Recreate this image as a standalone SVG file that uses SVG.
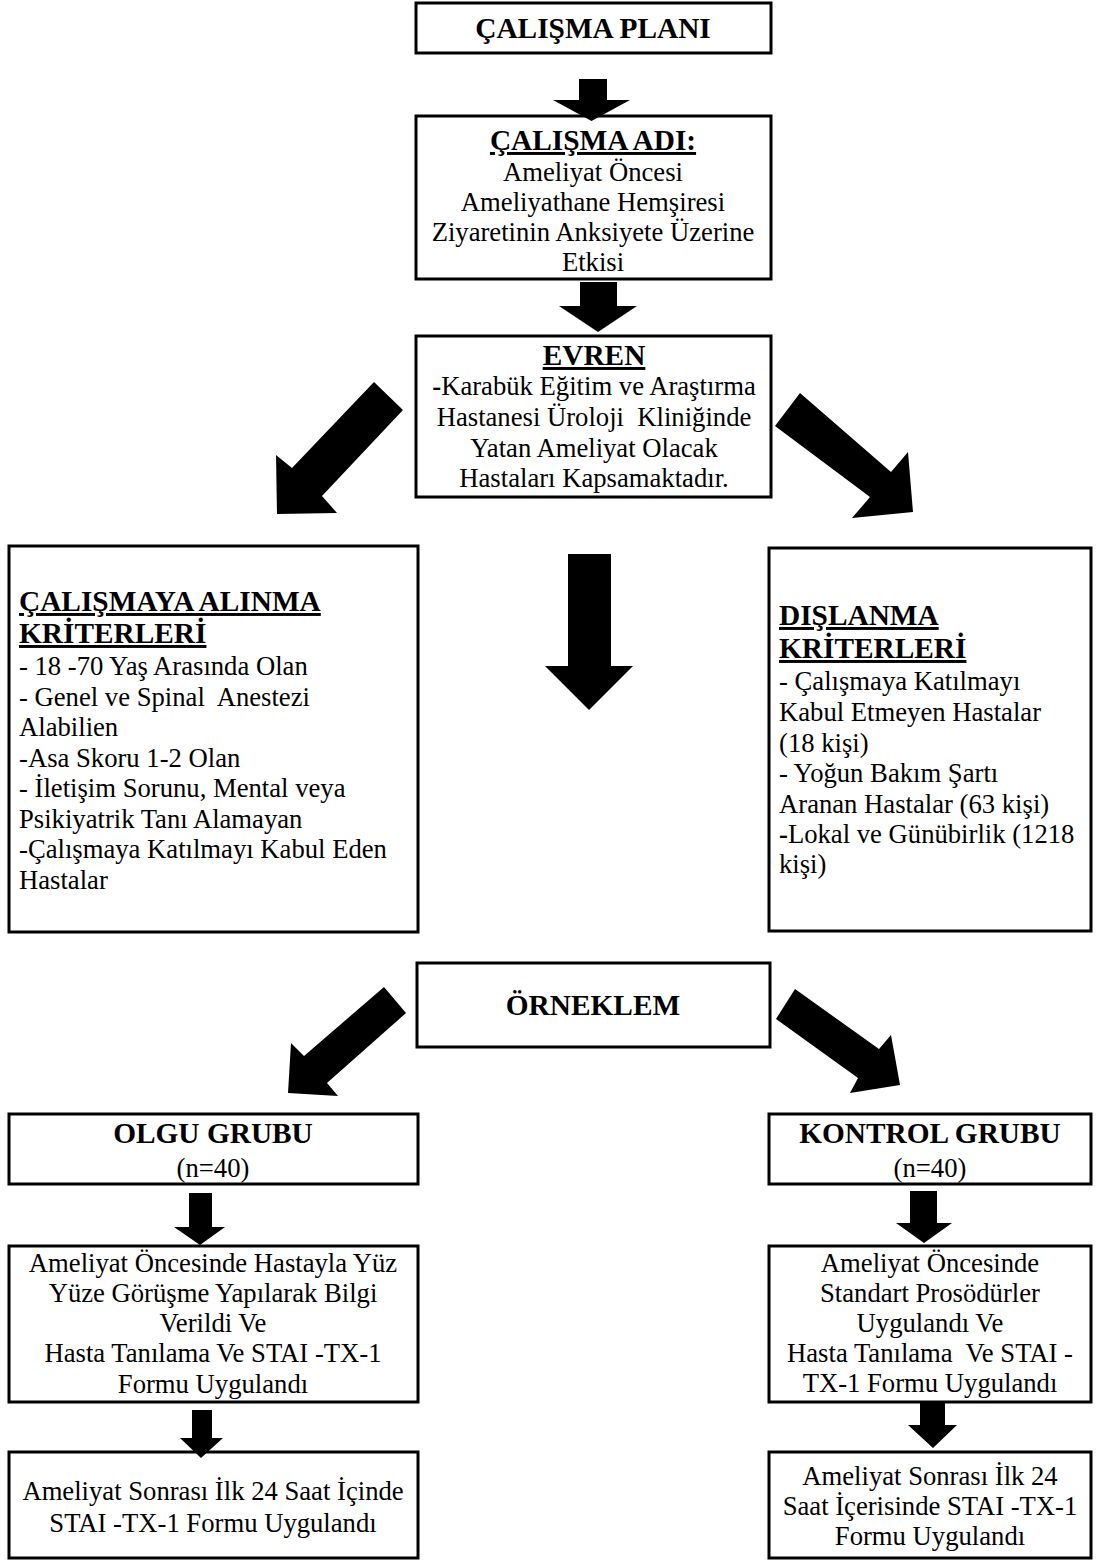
<svg xmlns="http://www.w3.org/2000/svg" width="1097" height="1561" viewBox="0 0 1097 1561">
<style>
  text { font-family: "Liberation Serif", "Times New Roman", serif; fill: #000; white-space: pre; }
  .box { fill: #fff; stroke: #000; stroke-width: 3; }
  .h { font-size: 29.33px; font-weight: bold; }
  .u { text-decoration: underline; }
  .t { font-size: 26.67px; }
  .c { text-anchor: middle; }
  .arr { fill: #000; stroke: none; }
</style>
<rect width="1097" height="1561" fill="#fff"/>

<g id="n-plan">
  <rect class="box" x="416" y="3" width="355" height="50"/>
  <text class="h c" x="593" y="38">ÇALIŞMA PLANI</text>
</g>

<g id="n-adi">
  <rect class="box" x="416" y="116" width="355" height="163"/>
  <text class="h c u" x="593" y="150">ÇALIŞMA ADI:</text>
  <text class="t c" x="593" y="181">Ameliyat Öncesi</text>
  <text class="t c" x="593" y="211">Ameliyathane Hemşiresi</text>
  <text class="t c" x="593" y="241">Ziyaretinin Anksiyete Üzerine</text>
  <text class="t c" x="593" y="271">Etkisi</text>
</g>

<g id="n-evren">
  <rect class="box" x="416" y="336" width="355" height="161"/>
  <text class="h c u" x="594" y="365">EVREN</text>
  <text class="t c" x="594" y="395"><tspan font-weight="bold">-</tspan>Karabük Eğitim ve Araştırma</text>
  <text class="t c" x="594" y="426">Hastanesi Üroloji  Kliniğinde</text>
  <text class="t c" x="594" y="457">Yatan Ameliyat Olacak</text>
  <text class="t c" x="594" y="487">Hastaları Kapsamaktadır.</text>
</g>

<g id="n-alinma">
  <rect class="box" x="9" y="546" width="409" height="386"/>
  <text class="h u" x="19" y="611">ÇALIŞMAYA ALINMA</text>
  <text class="h u" x="19" y="643">KRİTERLERİ</text>
  <text class="t" x="19" y="675">- 18 -70 Yaş Arasında Olan</text>
  <text class="t" x="19" y="706">- Genel ve Spinal  Anestezi</text>
  <text class="t" x="19" y="736">Alabilien</text>
  <text class="t" x="19" y="767">-Asa Skoru 1-2 Olan</text>
  <text class="t" x="19" y="797">- İletişim Sorunu, Mental veya</text>
  <text class="t" x="19" y="828">Psikiyatrik Tanı Alamayan</text>
  <text class="t" x="19" y="858">-Çalışmaya Katılmayı Kabul Eden</text>
  <text class="t" x="19" y="889">Hastalar</text>
</g>

<g id="n-dislanma">
  <rect class="box" x="769" y="548" width="322" height="383"/>
  <text class="h u" x="779" y="625">DIŞLANMA</text>
  <text class="h u" x="779" y="658">KRİTERLERİ</text>
  <text class="t" x="779" y="690">- Çalışmaya Katılmayı</text>
  <text class="t" x="779" y="721">Kabul Etmeyen Hastalar</text>
  <text class="t" x="779" y="752">(18 kişi)</text>
  <text class="t" x="779" y="782">- Yoğun Bakım Şartı</text>
  <text class="t" x="779" y="813">Aranan Hastalar (63 kişi)</text>
  <text class="t" x="779" y="843"><tspan font-weight="bold">-</tspan>Lokal ve Günübirlik (1218</text>
  <text class="t" x="779" y="873">kişi)</text>
</g>

<g id="n-orneklem">
  <rect class="box" x="417" y="963" width="353" height="84"/>
  <text class="h c" x="593" y="1015">ÖRNEKLEM</text>
</g>

<g id="n-olgu">
  <rect class="box" x="9" y="1114" width="409" height="70"/>
  <text class="h c" x="213" y="1143">OLGU GRUBU</text>
  <text class="t c" x="213" y="1177">(n=40)</text>
</g>

<g id="n-kontrol">
  <rect class="box" x="769" y="1114" width="322" height="70"/>
  <text class="h c" x="930" y="1143">KONTROL GRUBU</text>
  <text class="t c" x="930" y="1177">(n=40)</text>
</g>

<g id="n-olgu-oncesi">
  <rect class="box" x="9" y="1246" width="409" height="156"/>
  <text class="t c" x="213" y="1272">Ameliyat Öncesinde Hastayla Yüz</text>
  <text class="t c" x="213" y="1302">Yüze Görüşme Yapılarak Bilgi</text>
  <text class="t c" x="213" y="1332">Verildi Ve</text>
  <text class="t c" x="213" y="1362">Hasta Tanılama Ve STAI -TX-1</text>
  <text class="t c" x="213" y="1393">Formu Uygulandı</text>
</g>

<g id="n-kontrol-oncesi">
  <rect class="box" x="769" y="1246" width="322" height="156"/>
  <text class="t c" x="930" y="1272">Ameliyat Öncesinde</text>
  <text class="t c" x="930" y="1302">Standart Prosödürler</text>
  <text class="t c" x="930" y="1332">Uygulandı Ve</text>
  <text class="t c" x="930" y="1362">Hasta Tanılama  Ve STAI -</text>
  <text class="t c" x="930" y="1392">TX-1 Formu Uygulandı</text>
</g>

<g id="n-olgu-sonrasi">
  <rect class="box" x="9" y="1452" width="409" height="106"/>
  <text class="t c" x="213" y="1500">Ameliyat Sonrası İlk 24 Saat İçinde</text>
  <text class="t c" x="213" y="1532">STAI -TX-1 Formu Uygulandı</text>
</g>

<g id="n-kontrol-sonrasi">
  <rect class="box" x="769" y="1452" width="322" height="106"/>
  <text class="t c" x="930" y="1485">Ameliyat Sonrası İlk 24</text>
  <text class="t c" x="930" y="1515">Saat İçerisinde STAI -TX-1</text>
  <text class="t c" x="930" y="1545">Formu Uygulandı</text>
</g>

<g id="connectors">
  <polygon class="arr" points="579,79 607,79 607,100 630,100 591.5,121 553,100 579,100"/>
  <polygon class="arr" points="580,282 617,282 617,306 637,306 598,332 559,306 580,306"/>
  <polygon class="arr" points="374,382 403,410 322,496 337,513 277,514 276,455 292,468"/>
  <polygon class="arr" points="800,393 891,472 908,452 913,512 852,518 870,497 775,426"/>
  <polygon class="arr" points="568,554 611,554 611,666 633,666 589,710 545,666 568,666"/>
  <polygon class="arr" points="384,987 406,1013 327,1083 338,1096 288,1093 291,1043 304,1056"/>
  <polygon class="arr" points="795,989 879,1049 891,1035 900,1085 850,1093 858,1078 776,1019"/>
  <polygon class="arr" points="189,1193 212,1193 212,1227 225,1227 200,1245 174,1227 189,1227"/>
  <polygon class="arr" points="192,1410 212,1410 212,1438 223,1438 201,1458 180,1438 192,1438"/>
  <polygon class="arr" points="910,1191 937,1191 937,1223 952,1223 924,1243 896,1223 910,1223"/>
  <polygon class="arr" points="920,1403 945,1403 945,1425 957,1425 933,1448 908,1425 920,1425"/>
</g>
</svg>
